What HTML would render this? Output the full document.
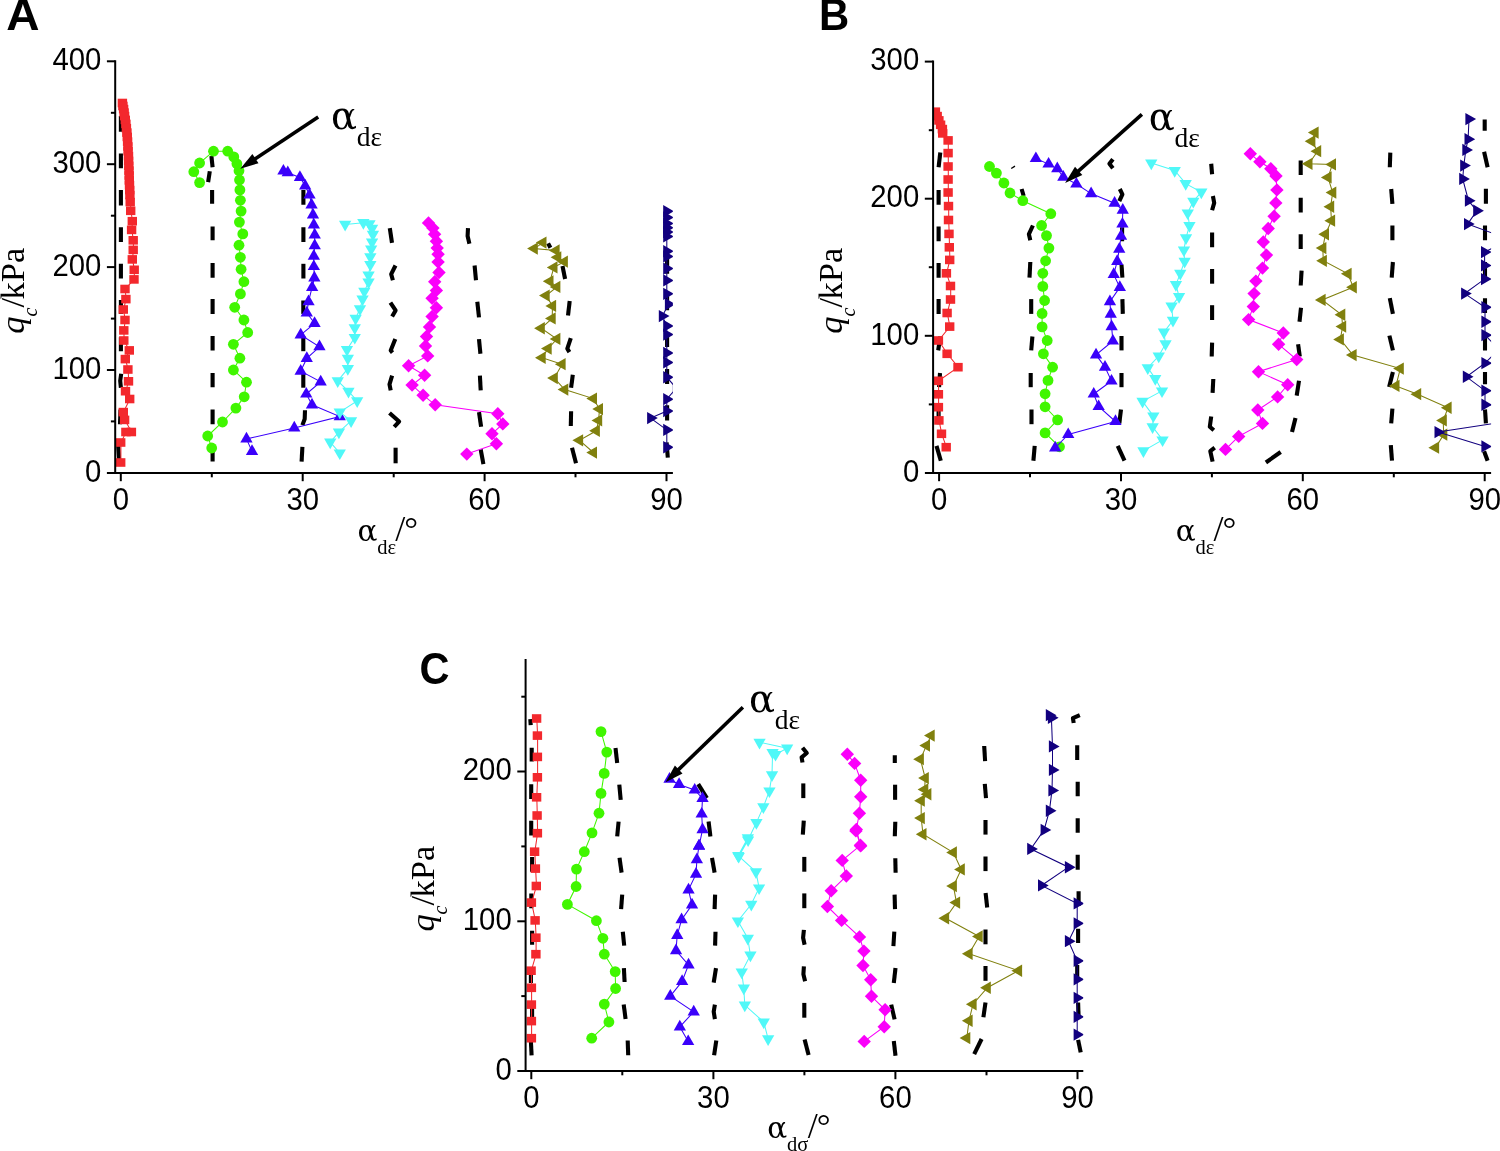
<!DOCTYPE html>
<html lang="en"><head><meta charset="utf-8"><title>Figure</title>
<style>
html,body{margin:0;padding:0;background:#fff}
svg{display:block}
.tk{font-family:"Liberation Sans",sans-serif;font-size:30.6px;fill:#000}
.pl{font-family:"Liberation Sans",sans-serif;font-weight:bold;font-size:44.7px;fill:#000}
.se{font-family:"Liberation Serif",serif;fill:#000}
</style></head>
<body>
<svg width="1500" height="1151" viewBox="0 0 1500 1151">
<rect width="1500" height="1151" fill="#fff"/>
<defs>
<clipPath id="cpA"><rect x="115.2" y="41.3" width="557.7" height="431.6"/></clipPath>
<clipPath id="cpB"><rect x="933.1" y="41.6" width="558.0" height="431.3"/></clipPath>
<clipPath id="cpC"><rect x="525.6" y="639.1" width="557.7" height="431.8"/></clipPath>
</defs>
<g id="panelA">
<g fill="none" stroke="#000" stroke-width="4.1" stroke-linejoin="round" clip-path="url(#cpA)">
<polyline points="120.9,116.1 120.9,131.7"/>
<polyline points="120.9,153.4 120.9,168.2"/>
<polyline points="120.9,189.9 120.9,205.6"/>
<polyline points="120.9,227.3 120.9,242.0"/>
<polyline points="120.9,263.8 120.9,278.5"/>
<polyline points="211.4,156.0 212.6,167.3"/>
<polyline points="209.8,171.3 208.1,182.1"/>
<polyline points="212.1,189.9 212.1,203.8"/>
<polyline points="212.6,226.4 212.6,240.3"/>
<polyline points="212.6,262.9 212.6,277.7"/>
<polyline points="120.9,300.0 120.9,313.9"/>
<polyline points="120.9,337.3 120.9,351.2"/>
<polyline points="121.2,373.8 120.2,380.8 120.9,387.7"/>
<polyline points="120.5,409.5 120.0,424.2"/>
<polyline points="118.2,445.9 119.1,460.7"/>
<polyline points="212.6,299.1 212.6,313.9"/>
<polyline points="212.6,336.0 212.6,350.4"/>
<polyline points="212.6,373.0 212.6,387.2"/>
<polyline points="212.6,409.5 212.6,424.2"/>
<polyline points="212.6,445.9 212.6,461.6"/>
<polyline points="303.3,300.5 303.3,313.9"/>
<polyline points="303.3,336.0 303.3,351.2"/>
<polyline points="303.3,373.0 303.3,387.7"/>
<polyline points="305.0,410.3 304.7,419.0 302.4,425.1"/>
<polyline points="302.4,446.8 301.6,461.6"/>
<polyline points="303.4,189.9 303.4,204.7"/>
<polyline points="303.4,227.3 303.4,242.0"/>
<polyline points="303.4,263.8 303.4,278.5"/>
<polyline points="389.8,228.1 392.0,242.9"/>
<polyline points="395.5,265.5 391.2,274.2 392.9,280.3"/>
<polyline points="468.0,228.1 467.6,236.0 469.4,243.8"/>
<polyline points="474.6,265.5 476.0,280.3"/>
<polyline points="390.4,302.6 395.6,310.4 392.1,316.5"/>
<polyline points="395.3,339.1 390.7,350.4 392.5,352.6"/>
<polyline points="392.1,375.6 389.5,384.3 390.7,390.3"/>
<polyline points="389.5,412.9 399.1,421.6 394.2,426.8"/>
<polyline points="395.6,447.7 395.6,463.3"/>
<polyline points="477.3,301.7 479.0,317.4"/>
<polyline points="479.0,339.1 480.4,353.8"/>
<polyline points="479.9,375.6 480.7,390.3"/>
<polyline points="479.0,412.1 481.1,426.8"/>
<polyline points="480.7,449.4 483.4,464.2"/>
<polyline points="569.7,300.9 568.0,315.6"/>
<polyline points="570.8,338.2 567.3,348.6 569.4,352.1"/>
<polyline points="572.8,374.7 571.1,387.7"/>
<polyline points="571.1,411.2 570.8,426.0"/>
<polyline points="572.0,447.7 576.0,463.3"/>
<polyline points="548.1,243.4 550.4,247.8"/>
<polyline points="562.5,266.0 565.1,279.0"/>
<polyline points="667.1,222.5 667.1,237.3"/>
<polyline points="667.1,259.0 667.1,273.8"/>
<polyline points="667.1,295.5 667.1,310.3"/>
<polyline points="667.1,332.0 667.1,347.0"/>
<polyline points="667.1,369.0 667.1,383.9"/>
<polyline points="667.1,405.3 667.1,420.6"/>
<polyline points="666.6,442.5 667.8,457.7"/>
</g>
<g clip-path="url(#cpA)">
<g fill="#F3282D" stroke="none">
<polyline fill="none" stroke="#F3282D" stroke-width="1.05" points="122.6,103.0 123.1,106.0 123.8,109.1 124.3,112.6 124.8,116.1 125.5,119.9 126.1,123.9 126.6,128.2 127.1,132.6 127.5,136.9 127.8,141.6 128.1,146.5 128.3,151.2 128.7,156.0 128.8,160.9 129.0,165.8 129.2,170.6 129.4,175.5 129.5,180.4 129.7,185.2 129.9,190.1 130.1,195.0 130.4,202.1 130.9,210.8 132.5,221.2 131.8,229.9 133.4,240.3 133.4,249.9 132.5,259.4 134.4,269.8 134.2,279.4 125.2,289.0 126.1,299.1 123.5,309.5 125.2,320.0 124.0,330.4 124.0,340.5 129.5,350.4 125.5,359.1 128.1,369.5 128.7,381.3 125.7,391.2 129.9,399.0 123.5,412.1 124.8,419.9 131.6,432.0 126.1,432.0 120.9,442.5 120.9,462.5"/>
<rect x="117.7" y="98.7" width="9.4" height="8.6"/><rect x="118.2" y="101.7" width="9.4" height="8.6"/><rect x="118.9" y="104.8" width="9.4" height="8.6"/><rect x="119.4" y="108.3" width="9.4" height="8.6"/><rect x="119.9" y="111.8" width="9.4" height="8.6"/><rect x="120.6" y="115.6" width="9.4" height="8.6"/><rect x="121.2" y="119.6" width="9.4" height="8.6"/><rect x="121.7" y="123.9" width="9.4" height="8.6"/><rect x="122.2" y="128.3" width="9.4" height="8.6"/><rect x="122.6" y="132.6" width="9.4" height="8.6"/><rect x="122.9" y="137.3" width="9.4" height="8.6"/><rect x="123.2" y="142.2" width="9.4" height="8.6"/><rect x="123.4" y="146.9" width="9.4" height="8.6"/><rect x="123.8" y="151.7" width="9.4" height="8.6"/><rect x="123.9" y="156.6" width="9.4" height="8.6"/><rect x="124.1" y="161.5" width="9.4" height="8.6"/><rect x="124.3" y="166.3" width="9.4" height="8.6"/><rect x="124.5" y="171.2" width="9.4" height="8.6"/><rect x="124.6" y="176.1" width="9.4" height="8.6"/><rect x="124.8" y="180.9" width="9.4" height="8.6"/><rect x="125.0" y="185.8" width="9.4" height="8.6"/><rect x="125.2" y="190.7" width="9.4" height="8.6"/><rect x="125.5" y="197.8" width="9.4" height="8.6"/><rect x="126.0" y="206.5" width="9.4" height="8.6"/><rect x="127.6" y="216.9" width="9.4" height="8.6"/><rect x="126.9" y="225.6" width="9.4" height="8.6"/><rect x="128.5" y="236.0" width="9.4" height="8.6"/><rect x="128.5" y="245.6" width="9.4" height="8.6"/><rect x="127.6" y="255.1" width="9.4" height="8.6"/><rect x="129.5" y="265.5" width="9.4" height="8.6"/><rect x="129.3" y="275.1" width="9.4" height="8.6"/><rect x="120.3" y="284.7" width="9.4" height="8.6"/><rect x="121.2" y="294.8" width="9.4" height="8.6"/><rect x="118.6" y="305.2" width="9.4" height="8.6"/><rect x="120.3" y="315.7" width="9.4" height="8.6"/><rect x="119.1" y="326.1" width="9.4" height="8.6"/><rect x="119.1" y="336.2" width="9.4" height="8.6"/><rect x="124.6" y="346.1" width="9.4" height="8.6"/><rect x="120.6" y="354.8" width="9.4" height="8.6"/><rect x="123.2" y="365.2" width="9.4" height="8.6"/><rect x="123.8" y="377.0" width="9.4" height="8.6"/><rect x="120.8" y="386.9" width="9.4" height="8.6"/><rect x="125.0" y="394.7" width="9.4" height="8.6"/><rect x="118.6" y="407.8" width="9.4" height="8.6"/><rect x="119.9" y="415.6" width="9.4" height="8.6"/><rect x="126.7" y="427.7" width="9.4" height="8.6"/><rect x="121.2" y="427.7" width="9.4" height="8.6"/><rect x="116.0" y="438.2" width="9.4" height="8.6"/><rect x="116.0" y="458.2" width="9.4" height="8.6"/>
</g>
<g fill="#40F600" stroke="none">
<polyline fill="none" stroke="#40F600" stroke-width="1.05" points="199.6,182.6 193.8,171.7 199.6,163.0 213.5,151.2 227.7,151.2 233.8,156.9 236.9,163.8 239.0,170.8 239.5,180.0 239.9,189.9 240.4,200.3 241.1,211.1 239.4,222.1 242.8,233.9 239.0,245.2 240.4,257.3 241.1,269.3 243.9,281.7 240.4,293.9 234.7,307.3 243.9,320.0 247.7,332.5 233.4,344.3 239.9,358.2 233.4,370.0 246.5,382.2 244.2,396.8 235.9,408.1 222.5,422.0 207.7,436.0 211.7,448.0"/>
<circle cx="199.6" cy="182.6" r="5.4"/><circle cx="193.8" cy="171.7" r="5.4"/><circle cx="199.6" cy="163.0" r="5.4"/><circle cx="213.5" cy="151.2" r="5.4"/><circle cx="227.7" cy="151.2" r="5.4"/><circle cx="233.8" cy="156.9" r="5.4"/><circle cx="236.9" cy="163.8" r="5.4"/><circle cx="239.0" cy="170.8" r="5.4"/><circle cx="239.5" cy="180.0" r="5.4"/><circle cx="239.9" cy="189.9" r="5.4"/><circle cx="240.4" cy="200.3" r="5.4"/><circle cx="241.1" cy="211.1" r="5.4"/><circle cx="239.4" cy="222.1" r="5.4"/><circle cx="242.8" cy="233.9" r="5.4"/><circle cx="239.0" cy="245.2" r="5.4"/><circle cx="240.4" cy="257.3" r="5.4"/><circle cx="241.1" cy="269.3" r="5.4"/><circle cx="243.9" cy="281.7" r="5.4"/><circle cx="240.4" cy="293.9" r="5.4"/><circle cx="234.7" cy="307.3" r="5.4"/><circle cx="243.9" cy="320.0" r="5.4"/><circle cx="247.7" cy="332.5" r="5.4"/><circle cx="233.4" cy="344.3" r="5.4"/><circle cx="239.9" cy="358.2" r="5.4"/><circle cx="233.4" cy="370.0" r="5.4"/><circle cx="246.5" cy="382.2" r="5.4"/><circle cx="244.2" cy="396.8" r="5.4"/><circle cx="235.9" cy="408.1" r="5.4"/><circle cx="222.5" cy="422.0" r="5.4"/><circle cx="207.7" cy="436.0" r="5.4"/><circle cx="211.7" cy="448.0" r="5.4"/>
</g>
<g fill="#3A00FA" stroke="none">
<polyline fill="none" stroke="#3A00FA" stroke-width="1.05" points="283.4,171.0 287.8,172.7 299.9,177.4 305.2,185.8 309.5,195.0 311.6,204.9 313.0,214.8 313.8,224.9 314.7,235.0 314.7,245.7 313.8,256.2 313.8,266.6 314.4,277.9 312.1,287.4 308.5,301.6 306.8,312.9 314.6,323.3 300.7,334.9 319.5,346.8 306.8,358.4 300.7,371.1 320.7,381.9 306.3,394.0 312.0,404.8 339.8,416.6 294.3,427.9 246.5,438.9 252.0,451.4"/>
<polygon points="277.3,174.6 289.6,174.6 283.4,163.9"/><polygon points="281.6,176.3 293.9,176.3 287.8,165.6"/><polygon points="293.8,181.0 306.1,181.0 299.9,170.3"/><polygon points="299.0,189.4 311.3,189.4 305.2,178.7"/><polygon points="303.4,198.6 315.7,198.6 309.5,187.9"/><polygon points="305.4,208.5 317.7,208.5 311.6,197.8"/><polygon points="306.8,218.4 319.1,218.4 313.0,207.7"/><polygon points="307.7,228.4 320.0,228.4 313.8,217.7"/><polygon points="308.6,238.5 320.9,238.5 314.7,227.8"/><polygon points="308.6,249.3 320.9,249.3 314.7,238.6"/><polygon points="307.7,259.7 320.0,259.7 313.8,249.0"/><polygon points="307.7,270.1 320.0,270.1 313.8,259.4"/><polygon points="308.2,281.4 320.5,281.4 314.4,270.7"/><polygon points="306.0,291.0 318.3,291.0 312.1,280.3"/><polygon points="302.4,305.2 314.7,305.2 308.5,294.5"/><polygon points="300.6,316.4 312.9,316.4 306.8,305.7"/><polygon points="308.4,326.9 320.7,326.9 314.6,316.2"/><polygon points="294.5,338.5 306.8,338.5 300.7,327.8"/><polygon points="313.3,350.3 325.6,350.3 319.5,339.6"/><polygon points="300.6,362.0 312.9,362.0 306.8,351.3"/><polygon points="294.5,374.7 306.8,374.7 300.7,364.0"/><polygon points="314.5,385.4 326.8,385.4 320.7,374.7"/><polygon points="300.1,397.6 312.4,397.6 306.3,386.9"/><polygon points="305.8,408.4 318.1,408.4 312.0,397.7"/><polygon points="333.6,420.2 345.9,420.2 339.8,409.5"/><polygon points="288.1,431.5 300.4,431.5 294.3,420.8"/><polygon points="240.3,442.4 252.6,442.4 246.5,431.7"/><polygon points="245.9,454.9 258.2,454.9 252.0,444.2"/>
</g>
<g fill="#50F8F8" stroke="none">
<polyline fill="none" stroke="#50F8F8" stroke-width="1.05" points="345.1,224.4 363.4,222.7 369.5,223.9 372.1,228.2 372.9,234.3 372.1,242.1 371.2,249.1 370.3,256.9 370.3,264.7 368.6,275.1 368.6,282.1 364.3,291.4 362.6,299.2 360.0,308.8 355.6,318.3 354.8,327.9 354.8,337.4 347.0,349.6 347.8,358.3 347.8,368.7 337.7,380.9 348.5,391.3 357.2,400.9 339.8,412.1 351.1,420.8 338.9,432.1 330.2,442.2 339.8,453.0"/>
<polygon points="339.0,220.8 351.3,220.8 345.1,231.5"/><polygon points="357.2,219.1 369.5,219.1 363.4,229.8"/><polygon points="363.3,220.3 375.6,220.3 369.5,231.0"/><polygon points="365.9,224.7 378.2,224.7 372.1,235.4"/><polygon points="366.8,230.7 379.1,230.7 372.9,241.4"/><polygon points="365.9,238.6 378.2,238.6 372.1,249.3"/><polygon points="365.0,245.5 377.3,245.5 371.2,256.2"/><polygon points="364.2,253.3 376.5,253.3 370.3,264.0"/><polygon points="364.2,261.1 376.5,261.1 370.3,271.8"/><polygon points="362.4,271.6 374.7,271.6 368.6,282.3"/><polygon points="362.4,278.5 374.7,278.5 368.6,289.2"/><polygon points="358.2,287.8 370.5,287.8 364.3,298.5"/><polygon points="356.4,295.6 368.7,295.6 362.6,306.3"/><polygon points="353.8,305.2 366.1,305.2 360.0,315.9"/><polygon points="349.5,314.7 361.8,314.7 355.6,325.4"/><polygon points="348.6,324.3 360.9,324.3 354.8,335.0"/><polygon points="348.6,333.9 360.9,333.9 354.8,344.6"/><polygon points="340.8,346.0 353.1,346.0 347.0,356.7"/><polygon points="341.7,354.7 354.0,354.7 347.8,365.4"/><polygon points="341.7,365.1 354.0,365.1 347.8,375.8"/><polygon points="331.6,377.3 343.9,377.3 337.7,388.0"/><polygon points="342.3,387.7 354.6,387.7 348.5,398.4"/><polygon points="351.0,397.3 363.3,397.3 357.2,408.0"/><polygon points="333.6,408.6 345.9,408.6 339.8,419.3"/><polygon points="344.9,417.3 357.2,417.3 351.1,428.0"/><polygon points="332.8,428.6 345.1,428.6 338.9,439.3"/><polygon points="324.1,438.6 336.4,438.6 330.2,449.3"/><polygon points="333.6,449.4 345.9,449.4 339.8,460.1"/>
</g>
<g fill="#FA00FA" stroke="none">
<polyline fill="none" stroke="#FA00FA" stroke-width="1.05" points="428.5,222.9 432.9,228.1 434.6,234.2 436.4,241.2 437.2,248.1 438.1,254.2 438.1,262.0 439.0,272.5 434.7,281.7 436.4,290.4 432.1,298.2 436.4,307.8 432.1,316.5 429.5,326.9 426.5,336.5 425.5,346.0 427.7,355.9 408.6,365.7 424.6,375.2 412.1,385.1 423.1,395.2 435.2,404.8 497.8,413.8 502.8,423.9 492.0,433.8 496.4,443.7 466.8,454.1"/>
<polygon points="421.8,222.9 428.5,216.2 435.2,222.9 428.5,229.6"/><polygon points="426.2,228.1 432.9,221.4 439.6,228.1 432.9,234.8"/><polygon points="427.9,234.2 434.6,227.5 441.3,234.2 434.6,240.9"/><polygon points="429.7,241.2 436.4,234.5 443.1,241.2 436.4,247.9"/><polygon points="430.5,248.1 437.2,241.4 443.9,248.1 437.2,254.8"/><polygon points="431.4,254.2 438.1,247.5 444.8,254.2 438.1,260.9"/><polygon points="431.4,262.0 438.1,255.3 444.8,262.0 438.1,268.7"/><polygon points="432.3,272.5 439.0,265.8 445.7,272.5 439.0,279.2"/><polygon points="428.0,281.7 434.7,275.0 441.4,281.7 434.7,288.4"/><polygon points="429.7,290.4 436.4,283.7 443.1,290.4 436.4,297.1"/><polygon points="425.4,298.2 432.1,291.5 438.8,298.2 432.1,304.9"/><polygon points="429.7,307.8 436.4,301.1 443.1,307.8 436.4,314.5"/><polygon points="425.4,316.5 432.1,309.8 438.8,316.5 432.1,323.2"/><polygon points="422.8,326.9 429.5,320.2 436.2,326.9 429.5,333.6"/><polygon points="419.8,336.5 426.5,329.8 433.2,336.5 426.5,343.2"/><polygon points="418.8,346.0 425.5,339.3 432.2,346.0 425.5,352.7"/><polygon points="421.0,355.9 427.7,349.2 434.4,355.9 427.7,362.6"/><polygon points="401.9,365.7 408.6,359.0 415.3,365.7 408.6,372.4"/><polygon points="417.9,375.2 424.6,368.5 431.3,375.2 424.6,381.9"/><polygon points="405.4,385.1 412.1,378.4 418.8,385.1 412.1,391.8"/><polygon points="416.4,395.2 423.1,388.5 429.8,395.2 423.1,401.9"/><polygon points="428.5,404.8 435.2,398.1 441.9,404.8 435.2,411.5"/><polygon points="491.1,413.8 497.8,407.1 504.5,413.8 497.8,420.5"/><polygon points="496.1,423.9 502.8,417.2 509.5,423.9 502.8,430.6"/><polygon points="485.3,433.8 492.0,427.1 498.7,433.8 492.0,440.5"/><polygon points="489.7,443.7 496.4,437.0 503.1,443.7 496.4,450.4"/><polygon points="460.1,454.1 466.8,447.4 473.5,454.1 466.8,460.8"/>
</g>
<g fill="#80800E" stroke="none">
<polyline fill="none" stroke="#80800E" stroke-width="1.05" points="543.0,242.6 534.3,248.6 556.0,250.4 557.7,257.3 564.3,261.7 553.9,267.4 549.9,281.3 556.9,286.9 546.1,295.6 552.5,306.0 552.2,318.5 541.2,328.2 556.9,339.0 548.2,348.5 542.1,357.8 562.1,364.2 554.3,378.1 564.7,389.6 593.4,398.6 599.5,409.1 598.6,420.4 596.3,430.8 579.5,440.3 593.4,452.5"/>
<polygon points="546.5,236.4 546.5,248.7 535.8,242.6"/><polygon points="537.8,242.5 537.8,254.8 527.1,248.6"/><polygon points="559.6,244.2 559.6,256.5 548.9,250.4"/><polygon points="561.3,251.2 561.3,263.5 550.6,257.3"/><polygon points="567.9,255.5 567.9,267.8 557.2,261.7"/><polygon points="557.5,261.3 557.5,273.6 546.8,267.4"/><polygon points="553.5,275.2 553.5,287.5 542.8,281.3"/><polygon points="560.4,280.7 560.4,293.0 549.7,286.9"/><polygon points="549.7,289.4 549.7,301.7 539.0,295.6"/><polygon points="556.1,299.8 556.1,312.1 545.4,306.0"/><polygon points="555.7,312.3 555.7,324.6 545.0,318.5"/><polygon points="544.8,322.1 544.8,334.4 534.1,328.2"/><polygon points="560.4,332.8 560.4,345.1 549.7,339.0"/><polygon points="551.7,342.4 551.7,354.7 541.0,348.5"/><polygon points="545.7,351.6 545.7,363.9 535.0,357.8"/><polygon points="565.6,358.0 565.6,370.3 554.9,364.2"/><polygon points="557.8,371.9 557.8,384.2 547.1,378.1"/><polygon points="568.3,383.5 568.3,395.8 557.6,389.6"/><polygon points="597.0,392.5 597.0,404.8 586.3,398.6"/><polygon points="603.0,402.9 603.0,415.2 592.3,409.1"/><polygon points="602.2,414.2 602.2,426.5 591.5,420.4"/><polygon points="599.9,424.6 599.9,436.9 589.2,430.8"/><polygon points="583.1,434.2 583.1,446.5 572.4,440.3"/><polygon points="597.0,446.4 597.0,458.7 586.3,452.5"/>
</g>
<g fill="#12007F" stroke="none">
<polyline fill="none" stroke="#12007F" stroke-width="1.05" points="666.8,211.3 666.8,217.4 666.8,223.4 666.8,227.8 666.8,232.1 666.8,236.5 666.8,251.2 666.8,256.5 666.8,268.6 666.8,280.4 666.8,293.8 668.5,304.2 662.4,316.1 666.8,326.0 666.8,334.6 666.8,352.9 666.8,362.5 666.8,377.2 676.3,388.2 666.8,399.2 666.8,411.1 650.6,418.1 666.8,429.9 666.8,447.3"/>
<polygon points="663.2,205.1 663.2,217.4 673.9,211.3"/><polygon points="663.2,211.2 663.2,223.5 673.9,217.4"/><polygon points="663.2,217.3 663.2,229.6 673.9,223.4"/><polygon points="663.2,221.6 663.2,233.9 673.9,227.8"/><polygon points="663.2,226.0 663.2,238.3 673.9,232.1"/><polygon points="663.2,230.3 663.2,242.6 673.9,236.5"/><polygon points="663.2,245.1 663.2,257.4 673.9,251.2"/><polygon points="663.2,250.3 663.2,262.6 673.9,256.5"/><polygon points="663.2,262.5 663.2,274.8 673.9,268.6"/><polygon points="663.2,274.3 663.2,286.6 673.9,280.4"/><polygon points="663.2,287.7 663.2,300.0 673.9,293.8"/><polygon points="664.9,298.1 664.9,310.4 675.6,304.2"/><polygon points="658.8,309.9 658.8,322.2 669.5,316.1"/><polygon points="663.2,319.8 663.2,332.1 673.9,326.0"/><polygon points="663.2,328.5 663.2,340.8 673.9,334.6"/><polygon points="663.2,346.7 663.2,359.0 673.9,352.9"/><polygon points="663.2,356.3 663.2,368.6 673.9,362.5"/><polygon points="663.2,371.1 663.2,383.4 673.9,377.2"/><polygon points="672.8,382.1 672.8,394.4 683.5,388.2"/><polygon points="663.2,393.0 663.2,405.3 673.9,399.2"/><polygon points="663.2,405.0 663.2,417.3 673.9,411.1"/><polygon points="647.1,411.9 647.1,424.2 657.8,418.1"/><polygon points="663.2,423.8 663.2,436.1 673.9,429.9"/><polygon points="663.2,441.1 663.2,453.4 673.9,447.3"/>
</g>
</g>
<g stroke="#000" stroke-width="2" fill="none">
<line x1="115.2" y1="60.3" x2="115.2" y2="473.9"/>
<line x1="106.9" y1="472.9" x2="672.9" y2="472.9"/>
<line x1="110.9" y1="421.4" x2="115.2" y2="421.4"/>
<line x1="106.9" y1="370.0" x2="115.2" y2="370.0"/>
<line x1="110.9" y1="318.6" x2="115.2" y2="318.6"/>
<line x1="106.9" y1="267.1" x2="115.2" y2="267.1"/>
<line x1="110.9" y1="215.7" x2="115.2" y2="215.7"/>
<line x1="106.9" y1="164.2" x2="115.2" y2="164.2"/>
<line x1="110.9" y1="112.8" x2="115.2" y2="112.8"/>
<line x1="106.9" y1="61.3" x2="115.2" y2="61.3"/>
<line x1="120.8" y1="472.9" x2="120.8" y2="481.2"/>
<line x1="211.8" y1="472.9" x2="211.8" y2="477.3"/>
<line x1="302.7" y1="472.9" x2="302.7" y2="481.2"/>
<line x1="393.7" y1="472.9" x2="393.7" y2="477.3"/>
<line x1="484.6" y1="472.9" x2="484.6" y2="481.2"/>
<line x1="575.5" y1="472.9" x2="575.5" y2="477.3"/>
<line x1="666.5" y1="472.9" x2="666.5" y2="481.2"/>
</g>
<text class="tk" text-anchor="end" x="101.3" y="481.6" textLength="16.3" lengthAdjust="spacingAndGlyphs">0</text>
<text class="tk" text-anchor="end" x="101.3" y="378.7" textLength="48.9" lengthAdjust="spacingAndGlyphs">100</text>
<text class="tk" text-anchor="end" x="101.3" y="275.8" textLength="48.9" lengthAdjust="spacingAndGlyphs">200</text>
<text class="tk" text-anchor="end" x="101.3" y="172.9" textLength="48.9" lengthAdjust="spacingAndGlyphs">300</text>
<text class="tk" text-anchor="end" x="101.3" y="70.0" textLength="48.9" lengthAdjust="spacingAndGlyphs">400</text>
<text class="tk" text-anchor="middle" x="120.8" y="510.3" textLength="16.3" lengthAdjust="spacingAndGlyphs">0</text>
<text class="tk" text-anchor="middle" x="302.7" y="510.3" textLength="32.6" lengthAdjust="spacingAndGlyphs">30</text>
<text class="tk" text-anchor="middle" x="484.6" y="510.3" textLength="32.6" lengthAdjust="spacingAndGlyphs">60</text>
<text class="tk" text-anchor="middle" x="666.5" y="510.3" textLength="32.6" lengthAdjust="spacingAndGlyphs">90</text>
</g>
<g id="panelB">
<g fill="none" stroke="#000" stroke-width="4.1" stroke-linejoin="round" clip-path="url(#cpB)">
<polyline points="940.3,152.6 938.6,167.3"/>
<polyline points="938.6,189.9 938.6,204.7"/>
<polyline points="938.6,226.4 938.6,241.2"/>
<polyline points="938.6,262.9 938.6,277.7"/>
<polyline points="1021.6,189.0 1023.7,196.0"/>
<polyline points="1032.9,225.5 1028.9,234.2 1030.3,240.3"/>
<polyline points="1030.3,262.0 1029.5,277.7"/>
<polyline points="1112.9,159.2 1109.4,163.8 1112.9,168.2"/>
<polyline points="1119.8,189.0 1122.4,194.3 1119.3,201.2"/>
<polyline points="1122.1,227.3 1122.1,241.2"/>
<polyline points="1121.5,264.6 1122.4,277.7"/>
<polyline points="938.6,299.1 938.6,313.9"/>
<polyline points="940.3,336.5 938.2,350.4"/>
<polyline points="940.0,373.0 939.1,387.2"/>
<polyline points="938.6,409.5 938.6,424.2"/>
<polyline points="936.5,445.9 940.8,460.7"/>
<polyline points="1031.2,299.1 1031.2,313.9"/>
<polyline points="1032.4,336.5 1031.2,350.4"/>
<polyline points="1030.7,373.0 1030.7,387.2"/>
<polyline points="1031.5,409.5 1031.5,424.2"/>
<polyline points="1034.7,445.9 1033.4,460.7"/>
<polyline points="1122.4,299.1 1122.8,313.9"/>
<polyline points="1121.5,336.0 1121.5,350.4"/>
<polyline points="1121.5,373.0 1121.5,387.2"/>
<polyline points="1121.0,409.5 1119.3,423.4"/>
<polyline points="1117.7,445.9 1124.5,460.7"/>
<polyline points="1211.2,163.8 1212.1,174.3"/>
<polyline points="1212.9,196.0 1214.2,202.9 1212.1,210.2"/>
<polyline points="1212.1,232.5 1212.1,247.3"/>
<polyline points="1212.1,269.0 1212.1,283.7"/>
<polyline points="1300.7,160.4 1300.7,175.1"/>
<polyline points="1300.7,197.7 1300.7,212.5"/>
<polyline points="1300.7,234.2 1300.7,249.0"/>
<polyline points="1301.6,270.7 1300.7,285.5"/>
<polyline points="1212.1,305.2 1212.1,320.0"/>
<polyline points="1212.1,342.6 1211.7,356.5"/>
<polyline points="1213.3,379.0 1212.6,392.9"/>
<polyline points="1211.2,416.4 1209.8,426.8 1213.8,430.3"/>
<polyline points="1214.7,447.7 1210.3,451.2 1212.6,461.6"/>
<polyline points="1301.0,307.8 1299.5,321.7"/>
<polyline points="1298.1,344.3 1299.8,356.5"/>
<polyline points="1299.0,380.8 1296.7,395.6"/>
<polyline points="1295.5,418.1 1292.0,432.0"/>
<polyline points="1280.7,452.0 1265.9,462.5"/>
<polyline points="1390.3,152.6 1389.8,167.3"/>
<polyline points="1391.2,189.0 1392.4,203.8"/>
<polyline points="1392.4,225.5 1392.4,240.3"/>
<polyline points="1392.9,262.0 1391.7,277.7"/>
<polyline points="1484.7,119.5 1484.7,130.8"/>
<polyline points="1484.1,151.7 1487.6,167.3"/>
<polyline points="1485.9,188.7 1485.9,203.8"/>
<polyline points="1485.0,225.5 1485.0,240.3"/>
<polyline points="1485.0,262.0 1485.0,277.7"/>
<polyline points="1389.8,298.2 1392.9,313.9"/>
<polyline points="1389.4,335.6 1392.9,350.4"/>
<polyline points="1392.9,372.1 1389.1,386.9"/>
<polyline points="1392.4,408.6 1391.2,423.4"/>
<polyline points="1390.8,445.1 1392.0,460.7"/>
<polyline points="1485.0,298.2 1485.0,313.0"/>
<polyline points="1485.0,335.6 1485.0,350.4"/>
<polyline points="1485.0,372.1 1485.0,384.3"/>
<polyline points="1485.0,409.5 1485.9,423.4"/>
<polyline points="1484.1,451.2 1487.6,460.7"/>
</g>
<g fill="none" stroke="#000" stroke-width="1.3">
<polyline points="1011.2,168.5 1015.0,166.1"/>
</g>
<g clip-path="url(#cpB)">
<g fill="#F3282D" stroke="none">
<polyline fill="none" stroke="#F3282D" stroke-width="1.05" points="935.6,111.7 937.4,116.1 939.1,120.4 940.8,124.8 942.6,129.1 942.9,133.4 948.3,140.4 948.3,153.1 948.3,166.5 948.3,179.5 948.3,192.5 948.7,206.1 948.7,220.0 949.2,233.9 949.5,247.3 949.9,259.9 946.6,273.3 950.7,286.0 950.7,299.5 947.3,313.0 949.9,326.6 938.6,340.5 947.3,353.8 958.2,367.2 938.6,380.8 938.6,394.3 938.6,407.2 939.1,420.4 941.7,433.8 946.4,447.2"/>
<rect x="930.7" y="107.4" width="9.4" height="8.6"/><rect x="932.5" y="111.8" width="9.4" height="8.6"/><rect x="934.2" y="116.1" width="9.4" height="8.6"/><rect x="935.9" y="120.5" width="9.4" height="8.6"/><rect x="937.7" y="124.8" width="9.4" height="8.6"/><rect x="938.0" y="129.1" width="9.4" height="8.6"/><rect x="943.4" y="136.1" width="9.4" height="8.6"/><rect x="943.4" y="148.8" width="9.4" height="8.6"/><rect x="943.4" y="162.2" width="9.4" height="8.6"/><rect x="943.4" y="175.2" width="9.4" height="8.6"/><rect x="943.4" y="188.2" width="9.4" height="8.6"/><rect x="943.8" y="201.8" width="9.4" height="8.6"/><rect x="943.8" y="215.7" width="9.4" height="8.6"/><rect x="944.3" y="229.6" width="9.4" height="8.6"/><rect x="944.6" y="243.0" width="9.4" height="8.6"/><rect x="945.0" y="255.6" width="9.4" height="8.6"/><rect x="941.7" y="269.0" width="9.4" height="8.6"/><rect x="945.8" y="281.7" width="9.4" height="8.6"/><rect x="945.8" y="295.2" width="9.4" height="8.6"/><rect x="942.4" y="308.7" width="9.4" height="8.6"/><rect x="945.0" y="322.3" width="9.4" height="8.6"/><rect x="933.7" y="336.2" width="9.4" height="8.6"/><rect x="942.4" y="349.5" width="9.4" height="8.6"/><rect x="953.3" y="362.9" width="9.4" height="8.6"/><rect x="933.7" y="376.5" width="9.4" height="8.6"/><rect x="933.7" y="390.0" width="9.4" height="8.6"/><rect x="933.7" y="402.9" width="9.4" height="8.6"/><rect x="934.2" y="416.1" width="9.4" height="8.6"/><rect x="936.8" y="429.5" width="9.4" height="8.6"/><rect x="941.5" y="442.9" width="9.4" height="8.6"/>
</g>
<g fill="#40F600" stroke="none">
<polyline fill="none" stroke="#40F600" stroke-width="1.05" points="989.5,166.5 996.4,173.1 1003.9,183.0 1010.0,193.0 1022.8,200.7 1050.8,213.7 1041.6,225.5 1046.5,235.6 1048.9,248.1 1045.6,260.8 1042.8,273.3 1042.8,286.4 1044.6,300.5 1042.1,313.5 1042.1,326.9 1047.2,340.5 1043.4,353.8 1052.6,367.2 1048.0,380.4 1045.1,393.8 1045.1,406.8 1057.6,419.9 1045.1,432.9 1059.5,446.8"/>
<circle cx="989.5" cy="166.5" r="5.4"/><circle cx="996.4" cy="173.1" r="5.4"/><circle cx="1003.9" cy="183.0" r="5.4"/><circle cx="1010.0" cy="193.0" r="5.4"/><circle cx="1022.8" cy="200.7" r="5.4"/><circle cx="1050.8" cy="213.7" r="5.4"/><circle cx="1041.6" cy="225.5" r="5.4"/><circle cx="1046.5" cy="235.6" r="5.4"/><circle cx="1048.9" cy="248.1" r="5.4"/><circle cx="1045.6" cy="260.8" r="5.4"/><circle cx="1042.8" cy="273.3" r="5.4"/><circle cx="1042.8" cy="286.4" r="5.4"/><circle cx="1044.6" cy="300.5" r="5.4"/><circle cx="1042.1" cy="313.5" r="5.4"/><circle cx="1042.1" cy="326.9" r="5.4"/><circle cx="1047.2" cy="340.5" r="5.4"/><circle cx="1043.4" cy="353.8" r="5.4"/><circle cx="1052.6" cy="367.2" r="5.4"/><circle cx="1048.0" cy="380.4" r="5.4"/><circle cx="1045.1" cy="393.8" r="5.4"/><circle cx="1045.1" cy="406.8" r="5.4"/><circle cx="1057.6" cy="419.9" r="5.4"/><circle cx="1045.1" cy="432.9" r="5.4"/><circle cx="1059.5" cy="446.8" r="5.4"/>
</g>
<g fill="#3A00FA" stroke="none">
<polyline fill="none" stroke="#3A00FA" stroke-width="1.05" points="1035.9,158.5 1048.6,164.1 1057.3,168.8 1063.3,177.1 1076.4,184.0 1091.1,193.6 1114.6,203.2 1122.8,210.1 1122.4,224.0 1121.0,236.2 1119.3,249.2 1117.2,261.4 1113.7,274.4 1119.8,287.4 1109.9,301.6 1110.8,314.1 1111.6,326.6 1112.9,341.0 1096.0,354.9 1105.0,367.1 1111.5,381.0 1093.7,394.0 1098.6,406.5 1115.5,421.5 1068.2,434.5 1055.2,447.9"/>
<polygon points="1029.7,162.1 1042.0,162.1 1035.9,151.4"/><polygon points="1042.4,167.6 1054.7,167.6 1048.6,156.9"/><polygon points="1051.1,172.3 1063.4,172.3 1057.3,161.6"/><polygon points="1057.2,180.7 1069.5,180.7 1063.3,170.0"/><polygon points="1070.2,187.6 1082.5,187.6 1076.4,176.9"/><polygon points="1085.0,197.2 1097.3,197.2 1091.1,186.5"/><polygon points="1108.4,206.7 1120.7,206.7 1114.6,196.0"/><polygon points="1116.6,213.7 1128.9,213.7 1122.8,203.0"/><polygon points="1116.3,227.6 1128.6,227.6 1122.4,216.9"/><polygon points="1114.9,239.7 1127.2,239.7 1121.0,229.0"/><polygon points="1113.1,252.8 1125.4,252.8 1119.3,242.1"/><polygon points="1111.1,264.9 1123.4,264.9 1117.2,254.2"/><polygon points="1107.6,278.0 1119.9,278.0 1113.7,267.3"/><polygon points="1113.7,291.0 1126.0,291.0 1119.8,280.3"/><polygon points="1103.8,305.2 1116.1,305.2 1109.9,294.5"/><polygon points="1104.6,317.7 1116.9,317.7 1110.8,307.0"/><polygon points="1105.5,330.2 1117.8,330.2 1111.6,319.5"/><polygon points="1106.7,344.6 1119.0,344.6 1112.9,333.9"/><polygon points="1089.9,358.5 1102.2,358.5 1096.0,347.8"/><polygon points="1098.9,370.7 1111.2,370.7 1105.0,360.0"/><polygon points="1105.3,384.6 1117.6,384.6 1111.5,373.9"/><polygon points="1087.6,397.6 1099.9,397.6 1093.7,386.9"/><polygon points="1092.5,410.1 1104.8,410.1 1098.6,399.4"/><polygon points="1109.3,425.0 1121.6,425.0 1115.5,414.3"/><polygon points="1062.1,438.1 1074.4,438.1 1068.2,427.4"/><polygon points="1049.0,451.5 1061.3,451.5 1055.2,440.8"/>
</g>
<g fill="#50F8F8" stroke="none">
<polyline fill="none" stroke="#50F8F8" stroke-width="1.05" points="1151.3,163.1 1174.7,170.5 1185.7,183.6 1201.3,192.1 1193.3,201.3 1187.7,212.9 1189.5,225.6 1186.0,237.8 1183.9,249.9 1184.6,261.2 1180.3,273.4 1175.9,284.7 1179.1,296.6 1171.6,306.2 1173.0,320.4 1163.9,332.2 1165.5,343.9 1158.7,356.0 1147.8,367.8 1155.3,378.6 1162.0,390.9 1142.6,401.4 1153.3,416.0 1152.6,426.9 1162.6,439.9 1143.4,450.9"/>
<polygon points="1145.1,159.5 1157.4,159.5 1151.3,170.2"/><polygon points="1168.6,167.0 1180.9,167.0 1174.7,177.7"/><polygon points="1179.5,180.0 1191.8,180.0 1185.7,190.7"/><polygon points="1195.2,188.5 1207.5,188.5 1201.3,199.2"/><polygon points="1187.2,197.7 1199.5,197.7 1193.3,208.4"/><polygon points="1181.6,209.4 1193.9,209.4 1187.7,220.1"/><polygon points="1183.3,222.1 1195.6,222.1 1189.5,232.8"/><polygon points="1179.9,234.2 1192.2,234.2 1186.0,244.9"/><polygon points="1177.8,246.4 1190.1,246.4 1183.9,257.1"/><polygon points="1178.5,257.7 1190.8,257.7 1184.6,268.4"/><polygon points="1174.1,269.8 1186.4,269.8 1180.3,280.5"/><polygon points="1169.8,281.1 1182.1,281.1 1175.9,291.8"/><polygon points="1172.9,293.0 1185.2,293.0 1179.1,303.7"/><polygon points="1165.4,302.6 1177.7,302.6 1171.6,313.3"/><polygon points="1166.8,316.8 1179.1,316.8 1173.0,327.5"/><polygon points="1157.8,328.6 1170.1,328.6 1163.9,339.3"/><polygon points="1159.4,340.3 1171.7,340.3 1165.5,351.0"/><polygon points="1152.6,352.5 1164.9,352.5 1158.7,363.2"/><polygon points="1141.6,364.3 1153.9,364.3 1147.8,375.0"/><polygon points="1149.1,375.0 1161.4,375.0 1155.3,385.7"/><polygon points="1155.9,387.4 1168.2,387.4 1162.0,398.1"/><polygon points="1136.4,397.8 1148.7,397.8 1142.6,408.5"/><polygon points="1147.2,412.4 1159.5,412.4 1153.3,423.1"/><polygon points="1146.5,423.3 1158.8,423.3 1152.6,434.0"/><polygon points="1156.4,436.4 1168.7,436.4 1162.6,447.1"/><polygon points="1137.3,447.3 1149.6,447.3 1143.4,458.0"/>
</g>
<g fill="#FA00FA" stroke="none">
<polyline fill="none" stroke="#FA00FA" stroke-width="1.05" points="1250.3,153.8 1259.9,161.8 1270.8,168.7 1276.0,176.0 1276.9,189.9 1275.8,202.9 1274.1,216.3 1268.2,228.5 1263.3,242.0 1266.5,255.1 1262.5,268.1 1255.9,281.1 1254.1,293.6 1253.3,306.6 1248.6,319.6 1283.3,333.0 1278.6,344.3 1296.7,359.6 1258.5,371.7 1287.7,384.8 1277.6,396.9 1257.8,410.0 1262.5,423.4 1238.7,436.4 1225.5,449.4"/>
<polygon points="1243.6,153.8 1250.3,147.1 1257.0,153.8 1250.3,160.5"/><polygon points="1253.2,161.8 1259.9,155.1 1266.6,161.8 1259.9,168.5"/><polygon points="1264.1,168.7 1270.8,162.0 1277.5,168.7 1270.8,175.4"/><polygon points="1269.3,176.0 1276.0,169.3 1282.7,176.0 1276.0,182.7"/><polygon points="1270.2,189.9 1276.9,183.2 1283.6,189.9 1276.9,196.6"/><polygon points="1269.1,202.9 1275.8,196.2 1282.5,202.9 1275.8,209.6"/><polygon points="1267.4,216.3 1274.1,209.6 1280.8,216.3 1274.1,223.0"/><polygon points="1261.5,228.5 1268.2,221.8 1274.9,228.5 1268.2,235.2"/><polygon points="1256.6,242.0 1263.3,235.3 1270.0,242.0 1263.3,248.7"/><polygon points="1259.8,255.1 1266.5,248.4 1273.2,255.1 1266.5,261.8"/><polygon points="1255.8,268.1 1262.5,261.4 1269.2,268.1 1262.5,274.8"/><polygon points="1249.2,281.1 1255.9,274.4 1262.6,281.1 1255.9,287.8"/><polygon points="1247.4,293.6 1254.1,286.9 1260.8,293.6 1254.1,300.3"/><polygon points="1246.6,306.6 1253.3,299.9 1260.0,306.6 1253.3,313.3"/><polygon points="1241.9,319.6 1248.6,312.9 1255.3,319.6 1248.6,326.3"/><polygon points="1276.6,333.0 1283.3,326.3 1290.0,333.0 1283.3,339.7"/><polygon points="1271.9,344.3 1278.6,337.6 1285.3,344.3 1278.6,351.0"/><polygon points="1290.0,359.6 1296.7,352.9 1303.4,359.6 1296.7,366.3"/><polygon points="1251.8,371.7 1258.5,365.0 1265.2,371.7 1258.5,378.4"/><polygon points="1281.0,384.8 1287.7,378.1 1294.4,384.8 1287.7,391.5"/><polygon points="1270.9,396.9 1277.6,390.2 1284.3,396.9 1277.6,403.6"/><polygon points="1251.1,410.0 1257.8,403.3 1264.5,410.0 1257.8,416.7"/><polygon points="1255.8,423.4 1262.5,416.7 1269.2,423.4 1262.5,430.1"/><polygon points="1232.0,436.4 1238.7,429.7 1245.4,436.4 1238.7,443.1"/><polygon points="1218.8,449.4 1225.5,442.7 1232.2,449.4 1225.5,456.1"/>
</g>
<g fill="#80800E" stroke="none">
<polyline fill="none" stroke="#80800E" stroke-width="1.05" points="1315.0,132.6 1311.9,141.3 1317.6,151.2 1308.9,163.8 1332.4,164.4 1328.0,177.4 1332.7,192.5 1330.6,206.8 1331.5,220.7 1325.4,234.2 1322.8,248.1 1323.3,260.8 1348.0,273.8 1353.2,287.2 1322.1,300.0 1341.7,314.8 1342.6,326.6 1340.3,339.4 1353.0,355.1 1400.3,368.6 1395.9,386.0 1417.6,394.2 1448.1,407.7 1443.2,420.4 1443.7,434.6 1435.5,447.7"/>
<polygon points="1318.6,126.4 1318.6,138.7 1307.9,132.6"/><polygon points="1315.4,135.1 1315.4,147.4 1304.7,141.3"/><polygon points="1321.2,145.0 1321.2,157.3 1310.5,151.2"/><polygon points="1312.5,157.7 1312.5,170.0 1301.8,163.8"/><polygon points="1336.0,158.2 1336.0,170.5 1325.3,164.4"/><polygon points="1331.6,171.3 1331.6,183.6 1320.9,177.4"/><polygon points="1336.3,186.4 1336.3,198.7 1325.6,192.5"/><polygon points="1334.2,200.6 1334.2,212.9 1323.5,206.8"/><polygon points="1335.1,214.5 1335.1,226.8 1324.4,220.7"/><polygon points="1329.0,228.1 1329.0,240.4 1318.3,234.2"/><polygon points="1326.4,242.0 1326.4,254.3 1315.7,248.1"/><polygon points="1326.9,254.7 1326.9,267.0 1316.2,260.8"/><polygon points="1351.6,267.7 1351.6,280.0 1340.9,273.8"/><polygon points="1356.8,281.1 1356.8,293.4 1346.1,287.2"/><polygon points="1325.6,293.8 1325.6,306.1 1314.9,300.0"/><polygon points="1345.3,308.6 1345.3,320.9 1334.6,314.8"/><polygon points="1346.2,320.4 1346.2,332.7 1335.5,326.6"/><polygon points="1343.9,333.3 1343.9,345.6 1333.2,339.4"/><polygon points="1356.6,348.9 1356.6,361.2 1345.9,355.1"/><polygon points="1403.8,362.5 1403.8,374.8 1393.1,368.6"/><polygon points="1399.5,379.8 1399.5,392.1 1388.8,386.0"/><polygon points="1421.2,388.0 1421.2,400.3 1410.5,394.2"/><polygon points="1451.6,401.6 1451.6,413.9 1440.9,407.7"/><polygon points="1446.8,414.2 1446.8,426.5 1436.1,420.4"/><polygon points="1447.3,428.5 1447.3,440.8 1436.6,434.6"/><polygon points="1439.1,441.5 1439.1,453.8 1428.4,447.7"/>
</g>
<g fill="#12007F" stroke="none">
<polyline fill="none" stroke="#12007F" stroke-width="1.05" points="1469.0,119.0 1468.1,139.2 1465.8,149.9 1463.8,165.6 1462.7,179.0 1468.5,200.7 1476.8,210.8 1467.6,224.1 1509.3,239.4 1484.6,252.1 1484.6,265.5 1484.6,279.1 1464.6,293.6 1485.0,307.3 1485.0,321.7 1485.0,335.1 1498.9,349.5 1485.0,363.1 1466.4,376.8 1485.0,390.7 1485.0,404.8 1533.6,405.5 1533.6,417.3 1438.0,432.0 1485.0,446.5"/>
<polygon points="1465.4,112.9 1465.4,125.2 1476.1,119.0"/><polygon points="1464.5,133.0 1464.5,145.3 1475.2,139.2"/><polygon points="1462.3,143.8 1462.3,156.1 1473.0,149.9"/><polygon points="1460.2,159.4 1460.2,171.7 1470.9,165.6"/><polygon points="1459.2,172.8 1459.2,185.1 1469.9,179.0"/><polygon points="1464.9,194.5 1464.9,206.8 1475.6,200.7"/><polygon points="1473.2,204.6 1473.2,216.9 1483.9,210.8"/><polygon points="1464.0,218.0 1464.0,230.3 1474.7,224.1"/><polygon points="1505.7,233.3 1505.7,245.6 1516.4,239.4"/><polygon points="1481.0,246.0 1481.0,258.3 1491.7,252.1"/><polygon points="1481.0,259.3 1481.0,271.6 1491.7,265.5"/><polygon points="1481.0,272.9 1481.0,285.2 1491.7,279.1"/><polygon points="1461.1,287.4 1461.1,299.7 1471.8,293.6"/><polygon points="1481.4,301.1 1481.4,313.4 1492.1,307.3"/><polygon points="1481.4,315.6 1481.4,327.9 1492.1,321.7"/><polygon points="1481.4,328.9 1481.4,341.2 1492.1,335.1"/><polygon points="1495.3,343.4 1495.3,355.7 1506.0,349.5"/><polygon points="1481.4,356.9 1481.4,369.2 1492.1,363.1"/><polygon points="1462.8,370.6 1462.8,382.9 1473.5,376.8"/><polygon points="1481.4,384.5 1481.4,396.8 1492.1,390.7"/><polygon points="1481.4,398.6 1481.4,410.9 1492.1,404.8"/><polygon points="1530.0,399.3 1530.0,411.6 1540.7,405.5"/><polygon points="1530.0,411.1 1530.0,423.4 1540.7,417.3"/><polygon points="1434.5,425.9 1434.5,438.2 1445.2,432.0"/><polygon points="1481.4,440.3 1481.4,452.6 1492.1,446.5"/>
</g>
</g>
<g stroke="#000" stroke-width="2" fill="none">
<line x1="933.1" y1="60.6" x2="933.1" y2="473.9"/>
<line x1="924.9" y1="472.9" x2="1491.1" y2="472.9"/>
<line x1="928.8" y1="404.4" x2="933.1" y2="404.4"/>
<line x1="924.8" y1="335.8" x2="933.1" y2="335.8"/>
<line x1="928.8" y1="267.2" x2="933.1" y2="267.2"/>
<line x1="924.8" y1="198.7" x2="933.1" y2="198.7"/>
<line x1="928.8" y1="130.2" x2="933.1" y2="130.2"/>
<line x1="924.8" y1="61.6" x2="933.1" y2="61.6"/>
<line x1="939.1" y1="472.9" x2="939.1" y2="481.2"/>
<line x1="1030.0" y1="472.9" x2="1030.0" y2="477.3"/>
<line x1="1121.0" y1="472.9" x2="1121.0" y2="481.2"/>
<line x1="1211.9" y1="472.9" x2="1211.9" y2="477.3"/>
<line x1="1302.8" y1="472.9" x2="1302.8" y2="481.2"/>
<line x1="1393.8" y1="472.9" x2="1393.8" y2="477.3"/>
<line x1="1484.7" y1="472.9" x2="1484.7" y2="481.2"/>
</g>
<text class="tk" text-anchor="end" x="919.2" y="481.6" textLength="16.3" lengthAdjust="spacingAndGlyphs">0</text>
<text class="tk" text-anchor="end" x="919.2" y="344.5" textLength="48.9" lengthAdjust="spacingAndGlyphs">100</text>
<text class="tk" text-anchor="end" x="919.2" y="207.4" textLength="48.9" lengthAdjust="spacingAndGlyphs">200</text>
<text class="tk" text-anchor="end" x="919.2" y="70.3" textLength="48.9" lengthAdjust="spacingAndGlyphs">300</text>
<text class="tk" text-anchor="middle" x="939.1" y="510.3" textLength="16.3" lengthAdjust="spacingAndGlyphs">0</text>
<text class="tk" text-anchor="middle" x="1121.0" y="510.3" textLength="32.6" lengthAdjust="spacingAndGlyphs">30</text>
<text class="tk" text-anchor="middle" x="1302.8" y="510.3" textLength="32.6" lengthAdjust="spacingAndGlyphs">60</text>
<text class="tk" text-anchor="middle" x="1484.7" y="510.3" textLength="32.6" lengthAdjust="spacingAndGlyphs">90</text>
</g>
<g id="panelC">
<g fill="none" stroke="#000" stroke-width="4.1" stroke-linejoin="round" clip-path="url(#cpC)">
<polyline points="530.3,719.1 530.7,725.1"/>
<polyline points="531.7,747.7 531.7,761.6"/>
<polyline points="531.2,784.2 531.2,799.0"/>
<polyline points="531.2,820.7 531.2,835.5"/>
<polyline points="615.5,748.1 617.2,763.0"/>
<polyline points="619.3,784.6 620.7,799.9"/>
<polyline points="618.6,821.6 617.2,836.4"/>
<polyline points="532.1,856.9 532.1,871.7"/>
<polyline points="531.3,893.4 531.3,908.2"/>
<polyline points="532.1,930.8 532.1,944.7"/>
<polyline points="530.9,968.1 530.9,982.9"/>
<polyline points="532.1,1004.6 532.1,1019.4"/>
<polyline points="619.5,857.8 621.6,872.6"/>
<polyline points="622.2,894.6 621.1,909.1"/>
<polyline points="622.8,931.7 624.2,945.6"/>
<polyline points="623.9,968.1 624.6,982.0"/>
<polyline points="623.7,1004.6 625.6,1019.1"/>
<polyline points="712.0,857.8 714.6,872.6"/>
<polyline points="715.1,894.6 714.6,909.1"/>
<polyline points="715.5,931.7 715.1,945.6"/>
<polyline points="716.0,968.1 713.7,982.6"/>
<polyline points="714.9,1004.6 713.7,1011.6 714.9,1019.1"/>
<polyline points="530.9,1041.5 531.6,1055.3"/>
<polyline points="627.7,1040.5 628.2,1055.3"/>
<polyline points="716.3,1040.5 714.1,1055.3"/>
<polyline points="698.2,784.2 706.9,798.1"/>
<polyline points="708.6,821.6 710.4,836.4"/>
<polyline points="802.5,747.7 806.8,753.0 801.6,757.3 802.5,762.5"/>
<polyline points="803.3,783.4 803.3,798.1"/>
<polyline points="803.8,820.7 802.8,834.6"/>
<polyline points="804.3,856.9 804.3,871.7"/>
<polyline points="804.3,893.4 804.3,908.2"/>
<polyline points="803.9,929.9 803.1,937.7 804.6,944.7"/>
<polyline points="803.9,966.4 803.4,974.2 805.1,981.2"/>
<polyline points="804.3,1002.9 804.3,1017.7"/>
<polyline points="894.6,894.6 895.0,909.1"/>
<polyline points="894.3,931.7 893.4,946.1"/>
<polyline points="895.5,968.1 893.8,982.9"/>
<polyline points="891.2,1004.6 894.6,1019.4"/>
<polyline points="804.6,1039.6 808.6,1054.9"/>
<polyline points="893.8,1041.0 895.5,1055.8"/>
<polyline points="894.8,755.2 894.8,763.0"/>
<polyline points="895.1,784.7 895.1,799.8"/>
<polyline points="895.3,821.7 894.8,836.3"/>
<polyline points="895.3,858.2 895.6,872.8"/>
<polyline points="984.2,746.0 985.1,761.2"/>
<polyline points="984.8,783.8 986.0,798.1"/>
<polyline points="985.5,820.0 985.5,834.6"/>
<polyline points="985.5,856.5 985.5,871.1"/>
<polyline points="1079.8,715.2 1072.9,718.1 1073.7,723.0"/>
<polyline points="1077.2,745.3 1077.2,759.9"/>
<polyline points="1077.7,781.7 1077.7,796.3"/>
<polyline points="1077.7,818.2 1077.7,832.8"/>
<polyline points="1077.7,854.7 1077.7,869.8"/>
<polyline points="985.6,893.0 987.2,907.5"/>
<polyline points="985.5,929.5 985.5,944.3"/>
<polyline points="985.5,966.0 985.5,980.8"/>
<polyline points="985.5,1002.5 983.4,1017.3"/>
<polyline points="981.6,1039.0 974.2,1054.1"/>
<polyline points="1078.6,891.3 1078.6,906.1"/>
<polyline points="1078.1,928.7 1078.1,942.9"/>
<polyline points="1077.2,965.1 1077.2,979.9"/>
<polyline points="1078.1,1002.5 1078.6,1017.3"/>
<polyline points="1078.1,1039.9 1080.7,1052.4"/>
</g>
<g clip-path="url(#cpC)">
<g fill="#F3282D" stroke="none">
<polyline fill="none" stroke="#F3282D" stroke-width="1.05" points="536.8,718.5 537.6,735.6 537.6,756.9 537.6,777.3 536.8,797.3 537.3,815.5 537.6,833.2 534.8,851.7 535.6,868.6 536.5,886.0 531.6,902.6 535.3,920.4 536.1,937.7 536.1,954.2 531.3,970.7 531.6,987.8 531.6,1004.6 531.6,1021.1 531.6,1038.2"/>
<rect x="531.9" y="714.2" width="9.4" height="8.6"/><rect x="532.7" y="731.3" width="9.4" height="8.6"/><rect x="532.7" y="752.6" width="9.4" height="8.6"/><rect x="532.7" y="773.0" width="9.4" height="8.6"/><rect x="531.9" y="793.0" width="9.4" height="8.6"/><rect x="532.4" y="811.2" width="9.4" height="8.6"/><rect x="532.7" y="828.9" width="9.4" height="8.6"/><rect x="529.9" y="847.4" width="9.4" height="8.6"/><rect x="530.7" y="864.3" width="9.4" height="8.6"/><rect x="531.6" y="881.7" width="9.4" height="8.6"/><rect x="526.7" y="898.3" width="9.4" height="8.6"/><rect x="530.4" y="916.1" width="9.4" height="8.6"/><rect x="531.2" y="933.4" width="9.4" height="8.6"/><rect x="531.2" y="949.9" width="9.4" height="8.6"/><rect x="526.4" y="966.4" width="9.4" height="8.6"/><rect x="526.7" y="983.5" width="9.4" height="8.6"/><rect x="526.7" y="1000.3" width="9.4" height="8.6"/><rect x="526.7" y="1016.8" width="9.4" height="8.6"/><rect x="526.7" y="1033.9" width="9.4" height="8.6"/>
</g>
<g fill="#40F600" stroke="none">
<polyline fill="none" stroke="#40F600" stroke-width="1.05" points="601.0,731.6 606.8,752.1 604.2,773.4 601.0,793.4 599.0,813.2 592.0,832.9 584.3,851.7 576.5,869.1 576.1,886.5 567.4,904.4 596.4,920.7 602.9,938.3 604.3,954.2 615.2,971.6 615.6,988.5 604.3,1004.1 608.9,1022.0 591.7,1038.2"/>
<circle cx="601.0" cy="731.6" r="5.4"/><circle cx="606.8" cy="752.1" r="5.4"/><circle cx="604.2" cy="773.4" r="5.4"/><circle cx="601.0" cy="793.4" r="5.4"/><circle cx="599.0" cy="813.2" r="5.4"/><circle cx="592.0" cy="832.9" r="5.4"/><circle cx="584.3" cy="851.7" r="5.4"/><circle cx="576.5" cy="869.1" r="5.4"/><circle cx="576.1" cy="886.5" r="5.4"/><circle cx="567.4" cy="904.4" r="5.4"/><circle cx="596.4" cy="920.7" r="5.4"/><circle cx="602.9" cy="938.3" r="5.4"/><circle cx="604.3" cy="954.2" r="5.4"/><circle cx="615.2" cy="971.6" r="5.4"/><circle cx="615.6" cy="988.5" r="5.4"/><circle cx="604.3" cy="1004.1" r="5.4"/><circle cx="608.9" cy="1022.0" r="5.4"/><circle cx="591.7" cy="1038.2" r="5.4"/>
</g>
<g fill="#3A00FA" stroke="none">
<polyline fill="none" stroke="#3A00FA" stroke-width="1.05" points="669.5,779.2 679.1,784.5 694.7,790.0 702.5,798.4 701.7,814.0 702.5,829.6 699.1,846.1 699.0,845.8 696.9,859.8 696.0,874.2 688.5,889.8 692.0,904.9 681.6,919.7 677.2,935.3 676.0,950.6 688.5,964.9 682.1,981.4 670.3,996.2 693.7,1011.8 679.8,1026.8 688.2,1041.6"/>
<polygon points="663.4,782.8 675.7,782.8 669.5,772.1"/><polygon points="672.9,788.0 685.2,788.0 679.1,777.3"/><polygon points="688.6,793.6 700.9,793.6 694.7,782.9"/><polygon points="696.4,801.9 708.7,801.9 702.5,791.2"/><polygon points="695.5,817.6 707.8,817.6 701.7,806.9"/><polygon points="696.4,833.2 708.7,833.2 702.5,822.5"/><polygon points="692.9,849.7 705.2,849.7 699.1,839.0"/><polygon points="692.8,849.4 705.1,849.4 699.0,838.7"/><polygon points="690.7,863.3 703.0,863.3 696.9,852.6"/><polygon points="689.9,877.7 702.2,877.7 696.0,867.0"/><polygon points="682.4,893.4 694.7,893.4 688.5,882.7"/><polygon points="685.9,908.5 698.2,908.5 692.0,897.8"/><polygon points="675.4,923.3 687.7,923.3 681.6,912.6"/><polygon points="671.1,938.9 683.4,938.9 677.2,928.2"/><polygon points="669.9,954.2 682.2,954.2 676.0,943.5"/><polygon points="682.4,968.4 694.7,968.4 688.5,957.7"/><polygon points="676.0,985.0 688.3,985.0 682.1,974.3"/><polygon points="664.1,999.7 676.4,999.7 670.3,989.0"/><polygon points="687.6,1015.4 699.9,1015.4 693.7,1004.7"/><polygon points="673.7,1030.4 686.0,1030.4 679.8,1019.7"/><polygon points="682.0,1045.1 694.3,1045.1 688.2,1034.4"/>
</g>
<g fill="#50F8F8" stroke="none">
<polyline fill="none" stroke="#50F8F8" stroke-width="1.05" points="759.5,742.3 787.2,748.2 775.5,754.4 772.6,752.7 772.0,774.8 769.4,790.9 763.4,806.9 756.4,822.6 748.1,839.9 738.7,856.4 747.8,837.9 738.2,855.6 756.0,871.8 759.1,888.0 751.3,904.3 737.9,921.0 747.8,938.3 750.4,955.2 741.7,972.1 743.8,988.2 744.8,1005.1 763.8,1022.1 768.1,1038.8"/>
<polygon points="753.4,738.7 765.7,738.7 759.5,749.4"/><polygon points="781.0,744.6 793.3,744.6 787.2,755.3"/><polygon points="769.4,750.9 781.7,750.9 775.5,761.6"/><polygon points="766.4,749.1 778.7,749.1 772.6,759.8"/><polygon points="765.9,771.2 778.2,771.2 772.0,781.9"/><polygon points="763.3,787.4 775.6,787.4 769.4,798.1"/><polygon points="757.2,803.3 769.5,803.3 763.4,814.0"/><polygon points="750.3,819.0 762.6,819.0 756.4,829.7"/><polygon points="741.9,836.4 754.2,836.4 748.1,847.1"/><polygon points="732.5,852.9 744.8,852.9 738.7,863.6"/><polygon points="741.7,834.3 754.0,834.3 747.8,845.0"/><polygon points="732.1,852.1 744.4,852.1 738.2,862.8"/><polygon points="749.8,868.2 762.1,868.2 756.0,878.9"/><polygon points="752.9,884.4 765.2,884.4 759.1,895.1"/><polygon points="745.1,900.7 757.4,900.7 751.3,911.4"/><polygon points="731.7,917.4 744.0,917.4 737.9,928.1"/><polygon points="741.7,934.8 754.0,934.8 747.8,945.5"/><polygon points="744.3,951.6 756.6,951.6 750.4,962.3"/><polygon points="735.6,968.5 747.9,968.5 741.7,979.2"/><polygon points="737.7,984.6 750.0,984.6 743.8,995.3"/><polygon points="738.7,1001.5 751.0,1001.5 744.8,1012.2"/><polygon points="757.6,1018.5 769.9,1018.5 763.8,1029.2"/><polygon points="762.0,1035.3 774.3,1035.3 768.1,1046.0"/>
</g>
<g fill="#FA00FA" stroke="none">
<polyline fill="none" stroke="#FA00FA" stroke-width="1.05" points="847.3,754.2 854.6,763.4 860.7,780.2 860.7,796.8 859.4,813.3 856.3,829.4 860.7,845.9 855.9,830.9 860.4,845.3 842.2,860.4 846.3,876.0 831.2,890.8 827.4,906.5 841.6,920.4 859.5,936.9 863.9,951.1 863.0,965.5 870.7,979.8 871.5,996.3 885.1,1009.8 884.2,1026.7 864.2,1041.4"/>
<polygon points="840.6,754.2 847.3,747.5 854.0,754.2 847.3,760.9"/><polygon points="847.9,763.4 854.6,756.7 861.3,763.4 854.6,770.1"/><polygon points="854.0,780.2 860.7,773.5 867.4,780.2 860.7,786.9"/><polygon points="854.0,796.8 860.7,790.1 867.4,796.8 860.7,803.5"/><polygon points="852.7,813.3 859.4,806.6 866.1,813.3 859.4,820.0"/><polygon points="849.6,829.4 856.3,822.7 863.0,829.4 856.3,836.1"/><polygon points="854.0,845.9 860.7,839.2 867.4,845.9 860.7,852.6"/><polygon points="849.2,830.9 855.9,824.2 862.6,830.9 855.9,837.6"/><polygon points="853.7,845.3 860.4,838.6 867.1,845.3 860.4,852.0"/><polygon points="835.5,860.4 842.2,853.7 848.9,860.4 842.2,867.1"/><polygon points="839.6,876.0 846.3,869.3 853.0,876.0 846.3,882.7"/><polygon points="824.5,890.8 831.2,884.1 837.9,890.8 831.2,897.5"/><polygon points="820.7,906.5 827.4,899.8 834.1,906.5 827.4,913.2"/><polygon points="834.9,920.4 841.6,913.7 848.3,920.4 841.6,927.1"/><polygon points="852.8,936.9 859.5,930.2 866.2,936.9 859.5,943.6"/><polygon points="857.2,951.1 863.9,944.4 870.6,951.1 863.9,957.8"/><polygon points="856.3,965.5 863.0,958.8 869.7,965.5 863.0,972.2"/><polygon points="864.0,979.8 870.7,973.1 877.4,979.8 870.7,986.5"/><polygon points="864.8,996.3 871.5,989.6 878.2,996.3 871.5,1003.0"/><polygon points="878.4,1009.8 885.1,1003.1 891.8,1009.8 885.1,1016.5"/><polygon points="877.5,1026.7 884.2,1020.0 890.9,1026.7 884.2,1033.4"/><polygon points="857.5,1041.4 864.2,1034.7 870.9,1041.4 864.2,1048.1"/>
</g>
<g fill="#80800E" stroke="none">
<polyline fill="none" stroke="#80800E" stroke-width="1.05" points="931.1,735.5 926.4,745.6 920.4,759.2 925.2,778.1 924.7,789.4 927.8,794.3 921.2,800.7 921.2,818.1 923.0,834.2 953.4,852.5 961.2,869.5 953.4,886.0 956.5,902.6 945.6,918.2 979.1,936.5 969.0,953.8 1018.5,970.7 987.3,987.7 973.0,1004.2 969.0,1020.7 966.8,1038.1"/>
<polygon points="934.7,729.4 934.7,741.7 924.0,735.5"/><polygon points="930.0,739.5 930.0,751.8 919.3,745.6"/><polygon points="923.9,753.0 923.9,765.3 913.2,759.2"/><polygon points="928.8,771.9 928.8,784.2 918.1,778.1"/><polygon points="928.3,783.2 928.3,795.5 917.6,789.4"/><polygon points="931.4,788.1 931.4,800.4 920.7,794.3"/><polygon points="924.8,794.5 924.8,806.8 914.1,800.7"/><polygon points="924.8,811.9 924.8,824.2 914.1,818.1"/><polygon points="926.5,828.1 926.5,840.4 915.8,834.2"/><polygon points="956.9,846.3 956.9,858.6 946.2,852.5"/><polygon points="964.8,863.3 964.8,875.6 954.1,869.5"/><polygon points="956.9,879.9 956.9,892.2 946.2,886.0"/><polygon points="960.1,896.4 960.1,908.7 949.4,902.6"/><polygon points="949.1,912.1 949.1,924.4 938.4,918.2"/><polygon points="982.7,930.3 982.7,942.6 972.0,936.5"/><polygon points="972.6,947.7 972.6,960.0 961.9,953.8"/><polygon points="1022.1,964.6 1022.1,976.9 1011.4,970.7"/><polygon points="990.8,981.6 990.8,993.9 980.1,987.7"/><polygon points="976.6,998.1 976.6,1010.4 965.9,1004.2"/><polygon points="972.6,1014.6 972.6,1026.9 961.9,1020.7"/><polygon points="970.3,1032.0 970.3,1044.3 959.6,1038.1"/>
</g>
<g fill="#12007F" stroke="none">
<polyline fill="none" stroke="#12007F" stroke-width="1.05" points="1049.4,715.2 1051.4,717.8 1052.5,746.5 1052.5,769.9 1052.0,790.4 1049.4,810.8 1044.1,829.9 1030.8,849.0 1068.5,867.2 1041.5,885.5 1077.2,903.5 1077.2,923.4 1068.5,941.2 1077.2,960.8 1077.2,979.4 1077.2,997.8 1077.2,1016.9 1077.2,1034.6"/>
<polygon points="1045.8,709.0 1045.8,721.3 1056.5,715.2"/><polygon points="1047.9,711.7 1047.9,724.0 1058.6,717.8"/><polygon points="1048.9,740.3 1048.9,752.6 1059.6,746.5"/><polygon points="1048.9,763.8 1048.9,776.1 1059.6,769.9"/><polygon points="1048.4,784.3 1048.4,796.6 1059.1,790.4"/><polygon points="1045.8,804.6 1045.8,816.9 1056.5,810.8"/><polygon points="1040.6,823.7 1040.6,836.0 1051.3,829.9"/><polygon points="1027.2,842.8 1027.2,855.1 1037.9,849.0"/><polygon points="1064.9,861.1 1064.9,873.4 1075.6,867.2"/><polygon points="1038.0,879.3 1038.0,891.6 1048.7,885.5"/><polygon points="1073.6,897.3 1073.6,909.6 1084.3,903.5"/><polygon points="1073.6,917.3 1073.6,929.6 1084.3,923.4"/><polygon points="1064.9,935.0 1064.9,947.3 1075.6,941.2"/><polygon points="1073.6,954.6 1073.6,966.9 1084.3,960.8"/><polygon points="1073.6,973.2 1073.6,985.5 1084.3,979.4"/><polygon points="1073.6,991.7 1073.6,1004.0 1084.3,997.8"/><polygon points="1073.6,1010.8 1073.6,1023.1 1084.3,1016.9"/><polygon points="1073.6,1028.5 1073.6,1040.8 1084.3,1034.6"/>
</g>
</g>
<g stroke="#000" stroke-width="2" fill="none">
<line x1="525.6" y1="659.1" x2="525.6" y2="1071.9"/>
<line x1="517.3" y1="1070.9" x2="1083.3" y2="1070.9"/>
<line x1="521.3" y1="996.1" x2="525.6" y2="996.1"/>
<line x1="517.3" y1="921.3" x2="525.6" y2="921.3"/>
<line x1="521.3" y1="846.4" x2="525.6" y2="846.4"/>
<line x1="517.3" y1="771.5" x2="525.6" y2="771.5"/>
<line x1="521.3" y1="696.7" x2="525.6" y2="696.7"/>
<line x1="531.3" y1="1070.9" x2="531.3" y2="1079.2"/>
<line x1="622.3" y1="1070.9" x2="622.3" y2="1075.3"/>
<line x1="713.4" y1="1070.9" x2="713.4" y2="1079.2"/>
<line x1="804.4" y1="1070.9" x2="804.4" y2="1075.3"/>
<line x1="895.4" y1="1070.9" x2="895.4" y2="1079.2"/>
<line x1="986.5" y1="1070.9" x2="986.5" y2="1075.3"/>
<line x1="1077.5" y1="1070.9" x2="1077.5" y2="1079.2"/>
</g>
<text class="tk" text-anchor="end" x="511.7" y="1079.6" textLength="16.3" lengthAdjust="spacingAndGlyphs">0</text>
<text class="tk" text-anchor="end" x="511.7" y="930.0" textLength="48.9" lengthAdjust="spacingAndGlyphs">100</text>
<text class="tk" text-anchor="end" x="511.7" y="780.2" textLength="48.9" lengthAdjust="spacingAndGlyphs">200</text>
<text class="tk" text-anchor="middle" x="531.3" y="1108.3" textLength="16.3" lengthAdjust="spacingAndGlyphs">0</text>
<text class="tk" text-anchor="middle" x="713.4" y="1108.3" textLength="32.6" lengthAdjust="spacingAndGlyphs">30</text>
<text class="tk" text-anchor="middle" x="895.4" y="1108.3" textLength="32.6" lengthAdjust="spacingAndGlyphs">60</text>
<text class="tk" text-anchor="middle" x="1077.5" y="1108.3" textLength="32.6" lengthAdjust="spacingAndGlyphs">90</text>
</g>
<text class="pl" x="6.2" y="29.9" textLength="33.3" lengthAdjust="spacingAndGlyphs">A</text>
<text class="pl" x="819.0" y="29.9" textLength="30.2" lengthAdjust="spacingAndGlyphs">B</text>
<text class="pl" x="419.4" y="683.85" textLength="30.0" lengthAdjust="spacingAndGlyphs">C</text>
<text class="se" font-size="34.5" transform="translate(24.0,333.7) rotate(-90)"><tspan font-style="italic" x="0" y="0">q</tspan><tspan font-style="italic" font-size="20" x="17.1" y="12.8">c</tspan><tspan x="26.1" y="0">/</tspan><tspan x="34.2" y="0">kPa</tspan></text>
<text class="se" font-size="34.5" transform="translate(841.9,333.7) rotate(-90)"><tspan font-style="italic" x="0" y="0">q</tspan><tspan font-style="italic" font-size="20" x="17.1" y="12.8">c</tspan><tspan x="26.1" y="0">/</tspan><tspan x="34.2" y="0">kPa</tspan></text>
<text class="se" font-size="34.5" transform="translate(434.2,931.6) rotate(-90)"><tspan font-style="italic" x="0" y="0">q</tspan><tspan font-style="italic" font-size="20" x="17.1" y="12.8">c</tspan><tspan x="26.1" y="0">/</tspan><tspan x="34.2" y="0">kPa</tspan></text>
<text class="se" x="357.5" y="540.5"><tspan font-family="DejaVu Serif, serif" font-size="29.5">α</tspan><tspan font-size="20.5" x="377.2" y="553.7">dε</tspan><tspan font-size="36" x="395.2" y="540.6">/</tspan><tspan font-size="34.5" x="404.3" y="539.8">°</tspan></text>
<text class="se" x="1175.8" y="540.5"><tspan font-family="DejaVu Serif, serif" font-size="29.5">α</tspan><tspan font-size="20.5" x="1195.5" y="553.7">dε</tspan><tspan font-size="36" x="1213.5" y="540.6">/</tspan><tspan font-size="34.5" x="1222.5" y="539.8">°</tspan></text>
<text class="se" x="767.2" y="1137.6"><tspan font-family="DejaVu Serif, serif" font-size="29.5">α</tspan><tspan font-size="20.5" x="786.9" y="1150.8">dσ</tspan><tspan font-size="36" x="807.7" y="1137.7">/</tspan><tspan font-size="34.5" x="816.7" y="1136.9">°</tspan></text>
<text class="se" x="330.9" y="128.7"><tspan font-family="DejaVu Serif, serif" font-size="38.5">α</tspan><tspan font-size="27.5" x="356.7" y="145.5">dε</tspan></text>
<text class="se" x="1148.8" y="129.5"><tspan font-family="DejaVu Serif, serif" font-size="38.5">α</tspan><tspan font-size="27.5" x="1174.6" y="146.5">dε</tspan></text>
<text class="se" x="749.0" y="711.6"><tspan font-family="DejaVu Serif, serif" font-size="38.5">α</tspan><tspan font-size="27.5" x="774.8" y="728.7">dε</tspan></text>
<line x1="318.2" y1="116.9" x2="253.8" y2="159.7" stroke="#000" stroke-width="3.6"/>
<polygon fill="#000" points="240.3,168.7 252.4,154.1 258.5,163.2"/>
<line x1="1141.9" y1="114.3" x2="1077.2" y2="172.2" stroke="#000" stroke-width="3.6"/>
<polygon fill="#000" points="1065.1,183.0 1075.0,166.8 1082.3,174.9"/>
<line x1="742.9" y1="707.2" x2="677.2" y2="770.9" stroke="#000" stroke-width="3.6"/>
<polygon fill="#000" points="665.6,782.2 674.9,765.6 682.5,773.4"/>
</svg>
</body></html>
